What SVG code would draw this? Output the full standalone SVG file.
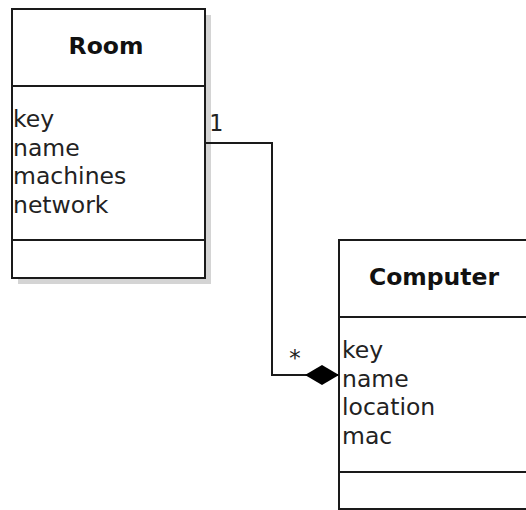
<svg xmlns="http://www.w3.org/2000/svg" width="526" height="510" viewBox="0 0 526 510">
  <defs>
    <style>
      .shadow { fill: #d4d4d4; stroke: none; }
      .box { fill: #ffffff; stroke: #1a1a1a; stroke-width: 2; }
      .sep { stroke: #1a1a1a; stroke-width: 2; }
      .title { font-family: "DejaVu Sans", sans-serif; font-weight: bold; font-size: 23.5px; fill: #111; text-anchor: middle; }
      .attr { font-family: "DejaVu Sans", sans-serif; font-size: 23.5px; fill: #222; }
      .mult { font-family: "DejaVu Sans Mono", monospace; font-size: 23px; fill: #222; text-anchor: middle; }
      .link { fill: none; stroke: #1a1a1a; stroke-width: 2; }
    </style>
    <marker id="composition" viewBox="0 0 34 22" refX="34" refY="11" markerWidth="34" markerHeight="22" markerUnits="userSpaceOnUse" orient="auto">
      <path d="M0,11 L17,1 L34,11 L17,21 Z" fill="#000"/>
    </marker>
  </defs>
  <rect width="526" height="510" fill="#ffffff"/>

  <!-- class Room -->
  <g id="room">
    <rect class="shadow" x="18" y="15" width="193" height="269"/>
    <rect class="box" x="12" y="9" width="193" height="269"/>
    <line class="sep" x1="12" y1="86" x2="205" y2="86"/>
    <line class="sep" x1="12" y1="240" x2="205" y2="240"/>
    <text class="title" x="106" y="54">Room</text>
    <text class="attr" x="13" y="127">key</text>
    <text class="attr" x="13" y="155.5">name</text>
    <text class="attr" x="13" y="184">machines</text>
    <text class="attr" x="13" y="212.5">network</text>
  </g>

  <!-- class Computer -->
  <g id="computer">
    <rect class="shadow" x="345" y="246" width="193" height="269"/>
    <rect class="box" x="339" y="240" width="193" height="269"/>
    <line class="sep" x1="339" y1="317" x2="532" y2="317"/>
    <line class="sep" x1="339" y1="472" x2="532" y2="472"/>
    <text class="title" x="434" y="285">Computer</text>
    <text class="attr" x="342" y="358">key</text>
    <text class="attr" x="342" y="386.5">name</text>
    <text class="attr" x="342" y="415">location</text>
    <text class="attr" x="342" y="443.5">mac</text>
  </g>

  <!-- composition: Room 1 to Computer * -->
  <g id="connectors">
    <polyline class="link" points="205,143 272,143 272,375 339,375" marker-end="url(#composition)"/>
    <text class="mult" x="216" y="131">1</text>
    <text class="mult" x="295" y="366">*</text>
  </g>
</svg>
